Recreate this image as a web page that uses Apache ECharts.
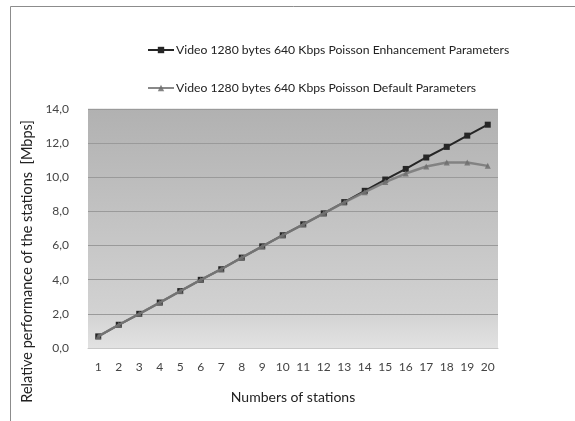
<!DOCTYPE html>
<html><head><meta charset="utf-8">
<script src="https://cdn.jsdelivr.net/npm/echarts@6/dist/echarts.min.js"></script>
<style>html,body{margin:0;padding:0;background:#fff}#c{width:575px;height:421px}</style>
</head><body><div id="c"></div>
<script>
const categories = ['1','2','3','4','5','6','7','8','9','10','11','12','13','14','15','16','17','18','19','20'];
const enhancement = [0.68,1.36,2.0,2.66,3.33,3.99,4.61,5.29,5.95,6.6,7.24,7.88,8.54,9.2,9.86,10.48,11.15,11.77,12.43,13.07];
const defaults = [0.68,1.36,2.0,2.66,3.33,3.99,4.61,5.29,5.95,6.6,7.24,7.88,8.52,9.12,9.71,10.21,10.62,10.86,10.86,10.66];
const seriesNames = ['Video 1280 bytes 640 Kbps Poisson Enhancement Parameters','Video 1280 bytes 640 Kbps Poisson Default Parameters'];
const font = 'Lato';
const chart = echarts.init(document.getElementById('c'));
chart.setOption({
  animation: false,
  textStyle: {fontFamily: font},
  graphic: [{type:'rect', shape:{x:10.5,y:6.5,width:600,height:500}, style:{fill:'none', stroke:'#8c8c8c', lineWidth:1}}],
  legend: [
    {left:142, top:39, itemWidth:26, itemHeight:8, itemGap:2, data:[seriesNames[0]], textStyle:{fontFamily:font,fontSize:12.2,color:'#222',padding:[0,0,0,-3]}},
    {left:142, top:77, itemWidth:26, itemHeight:8, itemGap:2, data:[seriesNames[1]], textStyle:{fontFamily:font,fontSize:12.2,color:'#222',padding:[0,0,0,-3]}}
  ],
  grid: {left:88, right:77, top:108.8, bottom:73, show:true, borderWidth:0,
    backgroundColor:{type:'linear',x:0,y:0,x2:0,y2:1,colorStops:[{offset:0,color:'#b1b1b1'},{offset:0.85,color:'#d2d2d2'},{offset:1,color:'#e2e2e2'}]}},
  xAxis: {type:'category', data:categories, boundaryGap:true,
    name:'Numbers of stations', nameLocation:'middle', nameGap:42,
    nameTextStyle:{fontFamily:font,fontSize:14,color:'#222'},
    axisLine:{lineStyle:{color:'#c8c8c8',width:1}}, axisTick:{show:false},
    axisLabel:{fontFamily:font,fontSize:12,color:'#444',margin:13}},
  yAxis: {type:'value', min:0, max:14, interval:2,
    name:'Relative performance of the stations  [Mbps]', nameLocation:'middle', nameGap:50,
    nameTextStyle:{fontFamily:font,fontSize:14.5,color:'#222',padding:[0,66,0,0]},
    axisLine:{show:false}, axisTick:{show:false},
    axisLabel:{fontFamily:font,fontSize:12,color:'#444',margin:19,formatter:v=>v.toFixed(1).replace('.',',')},
    splitLine:{lineStyle:{color:'#9a9a9a',width:1.2}}},
  series: [
    {name:seriesNames[0], type:'line', data:enhancement, symbol:'rect', symbolSize:6, z:2,
      lineStyle:{color:'#262626',width:2}, itemStyle:{color:'#262626'}},
    {name:seriesNames[1], type:'line', data:defaults, symbol:'triangle', symbolSize:6, z:3,
      lineStyle:{color:'#7c7c7c',width:2.5,opacity:0.9}, itemStyle:{color:'#6e6e6e',opacity:0.85}}
  ]
});
</script></body></html>
